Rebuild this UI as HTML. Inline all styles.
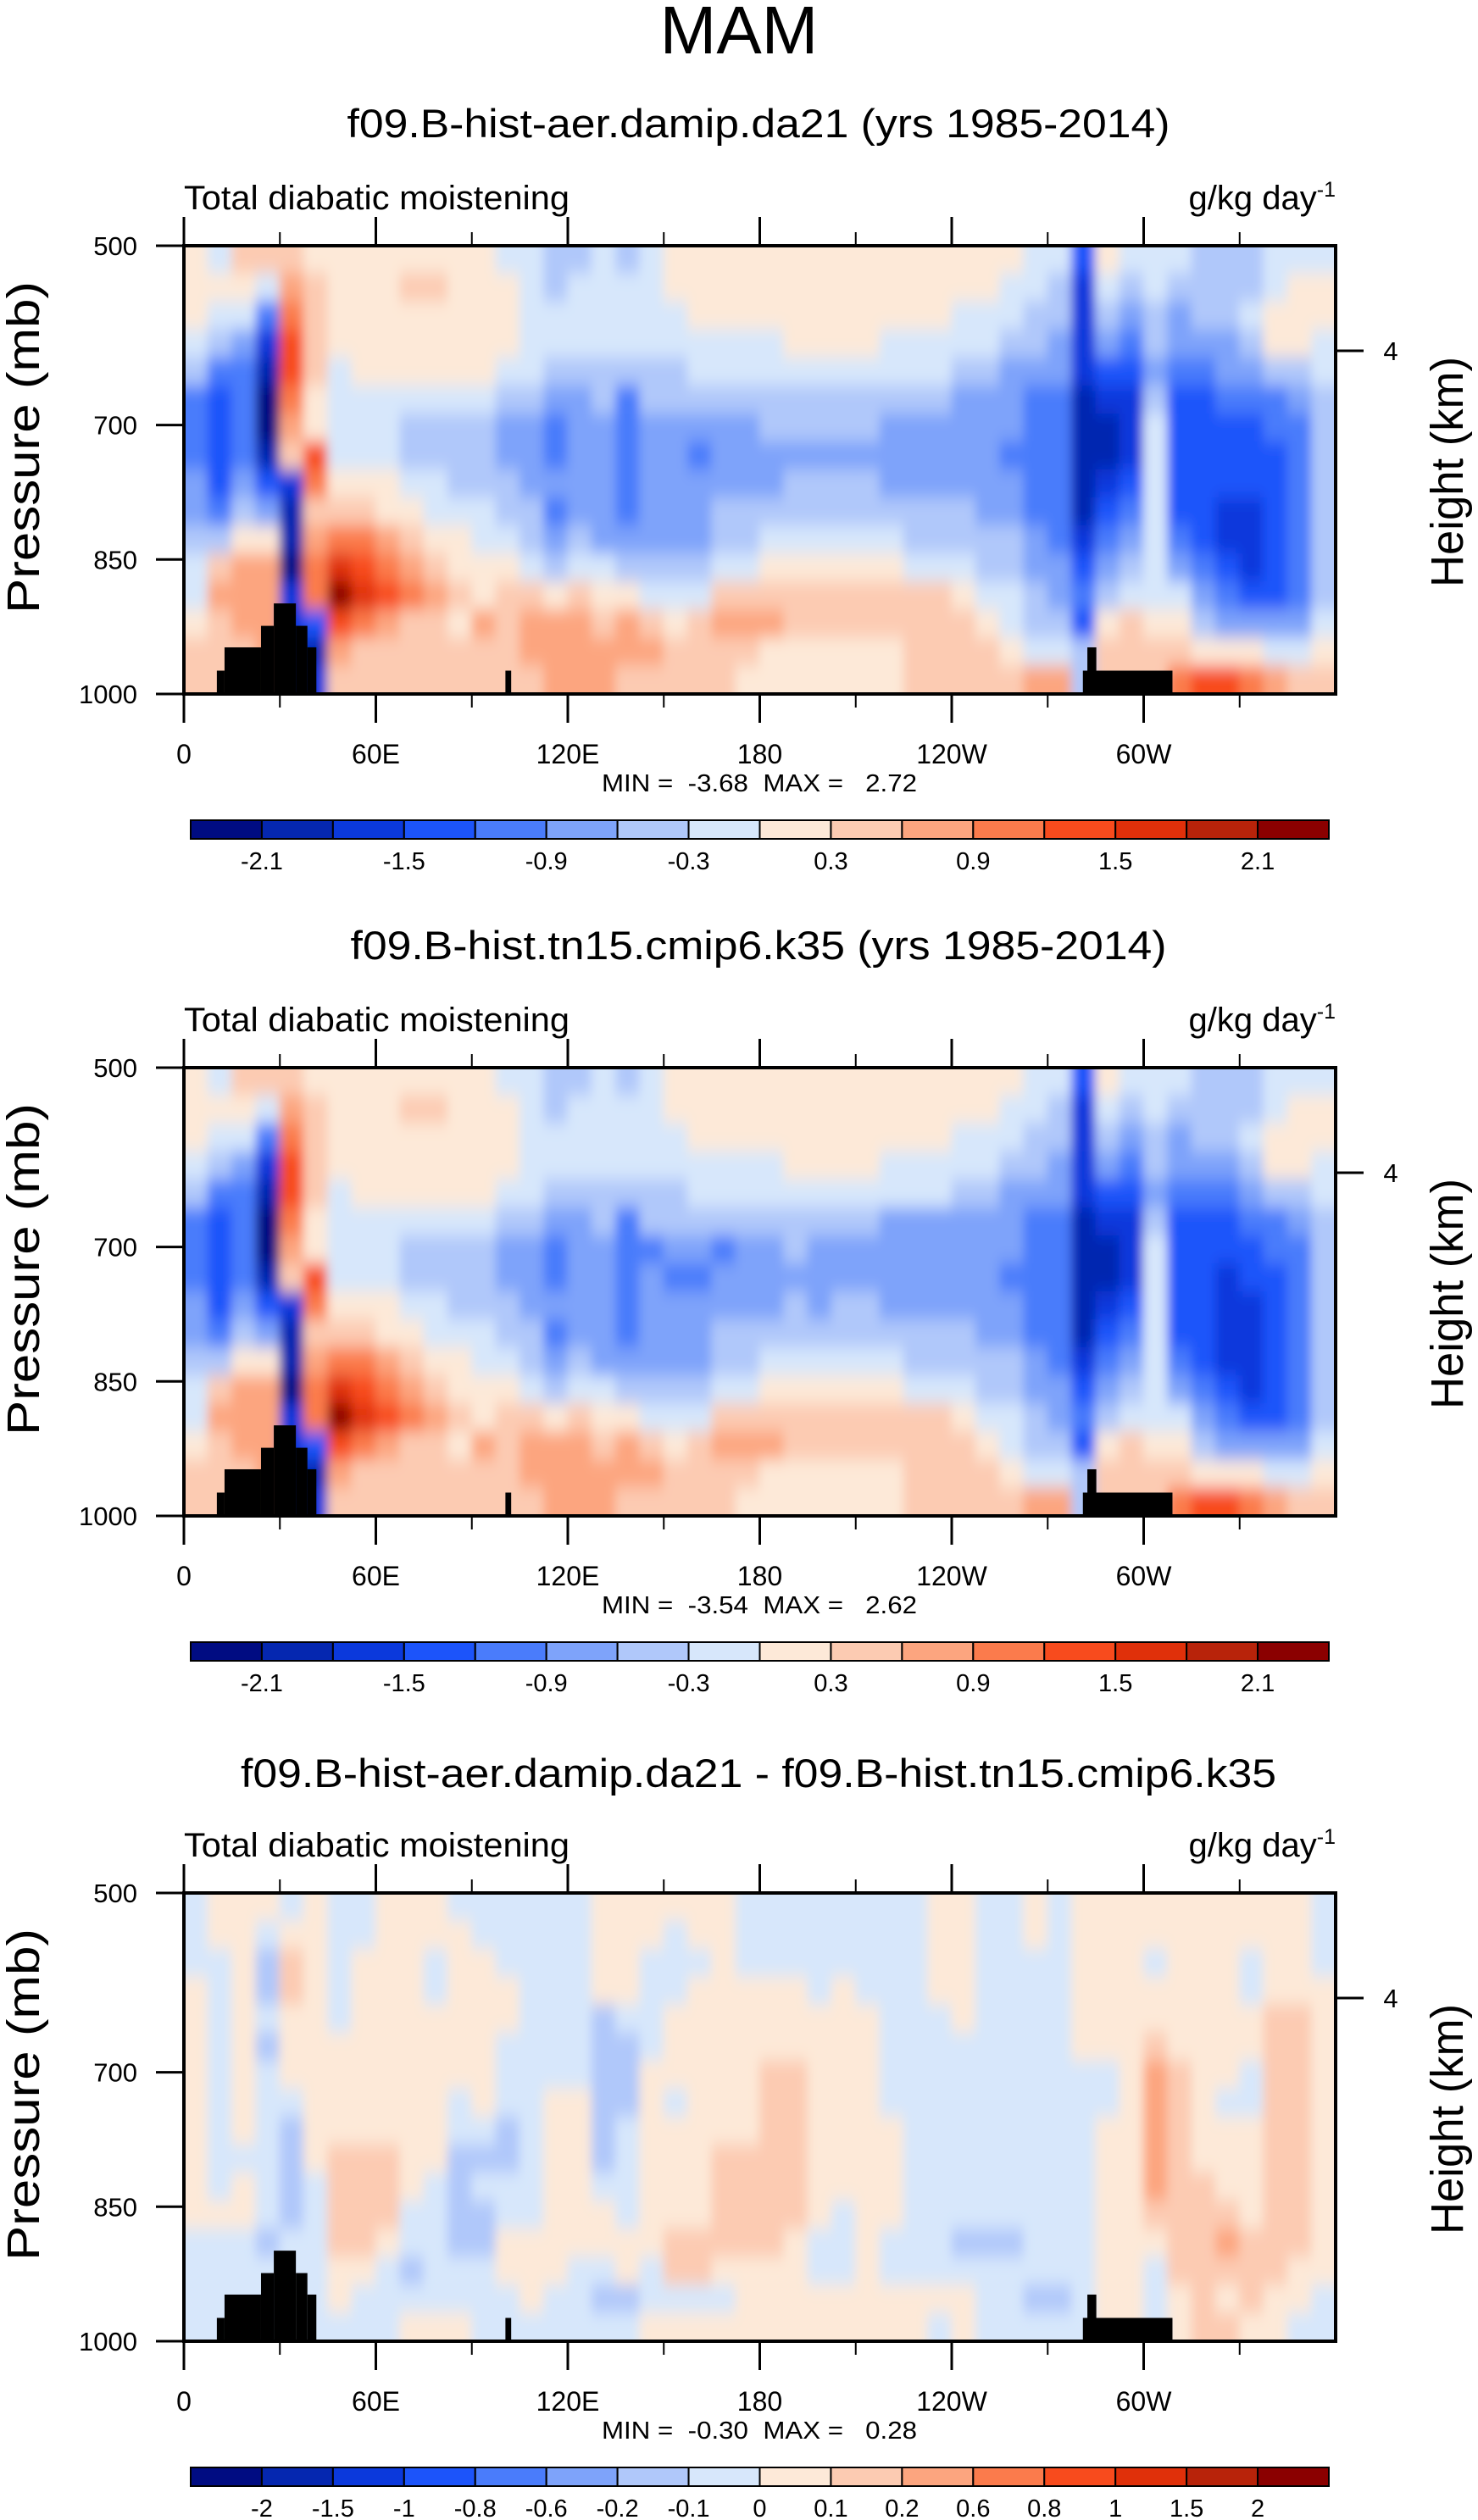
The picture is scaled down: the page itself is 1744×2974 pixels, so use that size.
<!DOCTYPE html>
<html><head><meta charset="utf-8"><title>MAM Total diabatic moistening</title>
<style>html,body{margin:0;padding:0;background:#fff}svg{display:block}text{font-family:"Liberation Sans",Arial,sans-serif;fill:#000;white-space:pre}</style>
</head><body>
<svg id="fig" width="1744" height="2974" viewBox="0 0 1744 2974" xmlns="http://www.w3.org/2000/svg">
<defs>
<filter id="soft" x="0" y="0" width="1" height="1"><feGaussianBlur stdDeviation="6 10"/></filter>
</defs>
<text x="872" y="63" font-size="80" text-anchor="middle">MAM</text>
<g id="panels"></g>
</svg>
<script>
// ---- data ----
const palette = ["#000c82","#0527b0","#0b39dc","#1c54fa","#4a7cfb","#7ea3fa","#b0c8fa","#d7e7fb","#fde9d8","#fccbb2","#fca57f","#fb7b4c","#f84b1d","#e0300a","#b8230a","#8b0000"];
const lonTicks = [0,60,120,180,240,300];
const lonTickLabels = ["0","60E","120E","180","120W","60W"];
const lonMinor = [30,90,150,210,270,330];
const presTicks = [500,700,850,1000];
const cbLabels12 = ["-2.1","-1.5","-0.9","-0.3","0.3","0.9","1.5","2.1"];
const cbLabels3 = ["-2","-1.5","-1","-0.8","-0.6","-0.2","-0.1","0","0.1","0.2","0.6","0.8","1","1.5","2"];
const terrain = [[10.3,12.7,974],[12.7,24.1,948],[24.1,28.1,924],[28.1,35,899],[35,38.6,924],[38.6,41.4,948],[100.5,102.3,974],[281,309,974],[282.4,285.2,948]];
// Each string = one 7.5deg longitude column, 16 pressure rows (500 -> 1000 mb), hex = colour level index
const panel1Cols = ["8887644455677899","787643333469a999","98754444568aaa99","97421001358aaaaa","9abccba921102222","8999988cb9abb312","8888777789bdfca9","8888877789bcdb99","8888877788abca99","89888766789ab999","898887667789a999","8888876667889899","8888876667788a99","7888765566789999","7777765556679aa9","6677654454568aaa","6777655555679aaa","77776655555789aa","6777644444568aa9","77776655555679a9","8877665555567899","8887765455567999","8887765556679a99","8887765556679a98","8887766556789a88","8888766566789988","8888766566789988","8888766566789988","8888766566789988","8887765556789988","8887765556679999","8887765556679999","8877655556678999","8877655555667899","8776555455667789","776654444455667a","766554444445567a","3222211111234366","8765321123456899","7654322234567999","7766567777777899","765543333345789b","666543333334568c","666554333223458c","667654333222358b","778864433333357a","7888654444444579","7887766666666789"];
const panel2Cols = ["8887644455677899","787643333469a999","98754444568aaa99","97421001358aaaaa","9abccba921102222","8999988cb9abb312","8888777789bdfca9","8888877789bcdb99","8888877788abca99","89888766789ab999","898887667789a999","8888876667889899","8888876667788a99","7888765566789999","7777765556679aa9","6677654454568aaa","6777655555679aaa","77776655555789aa","6777644444568aa9","77776645555679a9","8877665455567899","8887765455567999","8887764556679a99","8887765556679a98","8887765556789a88","8888766566789988","8888765556789988","8888765566789988","8888765566789988","8887755556789988","8887755556679999","8887755556679999","8877655556678999","8877655555667899","8776555455667789","776654444455667a","766554444445567a","3222211111234366","8765321123456899","7654322234567999","7766567777777899","765543333345789b","666543333334568c","666543322223458c","667654332222358b","778864433333357a","7888654444444579","7887766666666789"];
const panel3Cols = ["7778888888887777","8877777777787777","8888888887887777","8766767777776777","7899888766667777","8888888888777777","7777788889999887","7788888889999877","8888888889998777","8888888888877678","8877888888777778","7888888776666778","7788888876766777","7778877766778877","7777777777778887","7777777888888877","7777777888888777","8888666666788767","8888766677778867","8877778888888778","8777888788889978","8878888888889978","8888888889999878","7778888889999888","7778889999999888","7778889999998888","7777888888887788","7778888888877788","7777888888888888","7777777788887788","7777777777777788","8888777777777787","8888877777776788","7777777777776777","7777777777776777","8877777777777767","7777777777777767","8888887777777777","8888887788888888","8888888888888888","887889aaaaa98777","8888889999999988","8888888888999999","888888878889a989","8877887788889998","8888999999999988","8888999999999887","7778888888888877"];
const panelTitles = ["f09.B-hist-aer.damip.da21 (yrs 1985-2014)","f09.B-hist.tn15.cmip6.k35 (yrs 1985-2014)","f09.B-hist-aer.damip.da21 - f09.B-hist.tn15.cmip6.k35"];
const minMaxText = ["MIN =  -3.68  MAX =   2.72","MIN =  -3.54  MAX =   2.62","MIN =  -0.30  MAX =   0.28"];

// ---- layout ----
const NS = "http://www.w3.org/2000/svg";
const PX0 = 217, PX1 = 1576, PH = 529;
const offsets = [0, 970, 1944];
const PY0 = 290;
const titleWidths = [971, 963, 1222];
const titleCenters = [895, 895, 895];
function xScale(lon){ return PX0 + lon/360*(PX1-PX0); }
function yScale(p, off){ return PY0 + off + (p-500)/500*PH; }
function mk(tag, attrs, parent){ const e=document.createElementNS(NS,tag); for(const k in attrs) e.setAttribute(k, attrs[k]); if(parent) parent.appendChild(e); return e; }
function txt(str, attrs, parent){ const t=mk("text", attrs, parent); t.textContent=str; return t; }

const root = document.getElementById("panels");
const allCols = [panel1Cols, panel2Cols, panel3Cols];

allCols.forEach((cols, pi) => {
  const off = offsets[pi];
  const g = mk("g", {}, root);
  
  

  const t = txt(panelTitles[pi], {x:titleCenters[pi], y:(pi===2?2109:162+off), "font-size":47, "text-anchor":"middle", textLength:titleWidths[pi], lengthAdjust:"spacingAndGlyphs"}, g);
  
  
  const lt = txt("Total diabatic moistening", {x:217, y:247+off, "font-size":40, textLength:455, lengthAdjust:"spacingAndGlyphs"}, g);
  
  
  const ut = mk("text", {x:1576, y:247+off, "font-size":40, "text-anchor":"end"}, g);
  
  
  ut.textContent = "g/kg day";
  const sup = mk("tspan", {dy:-15, "font-size":25}, ut); sup.textContent = "-1";

  // clip
  const cid = "clip"+pi;
  const cp = mk("clipPath", {id:cid}, g);
  mk("rect", {x:PX0, y:PY0+off, width:PX1-PX0, height:PH}, cp);
  const field = mk("g", {"clip-path":"url(#"+cid+")"}, g);
  
  
  const cells = mk("g", {filter:"url(#soft)"}, field);
  const dl = 360/cols.length;
  const pad = 40;
  cols.forEach((col, ci) => {
    const nr = col.length, dp = 500/nr;
    for (let r=0; r<nr; r++){
      const v = parseInt(col[r],16);
      let x0 = xScale(ci*dl), x1 = xScale((ci+1)*dl);
      let y0 = yScale(500+r*dp, off), y1 = yScale(500+(r+1)*dp, off);
      if (ci===0) x0 -= pad;
      if (ci===cols.length-1) x1 += pad;
      if (r===0) y0 -= pad;
      if (r===nr-1) y1 += pad;
      const c = mk("rect", {x:x0-0.5, y:y0-0.5, width:x1-x0+1, height:y1-y0+1, fill:palette[v]}, cells);
      
      
    }
  });
  // terrain
  terrain.forEach(tr => {
    const x0=xScale(tr[0]), x1=xScale(tr[1]), y0=yScale(tr[2],off), y1=yScale(1000,off);
    const b = mk("rect", {x:x0, y:y0, width:x1-x0, height:y1-y0, fill:"#000"}, field);
    
    
  });
  // frame
  const fr = mk("rect", {x:PX0, y:PY0+off, width:PX1-PX0, height:PH, fill:"none", stroke:"#000", "stroke-width":4}, g);
  
  
  // x ticks
  lonTicks.forEach((lon, i) => {
    const x = xScale(lon);
    mk("line", {x1:x, x2:x, y1:PY0+off, y2:PY0+off-34, stroke:"#000","stroke-width":3}, g);
    mk("line", {x1:x, x2:x, y1:PY0+off+PH, y2:PY0+off+PH+34, stroke:"#000","stroke-width":3}, g);
    const l = txt(lonTickLabels[i], {x:x, y:901+off, "font-size":32, "text-anchor":"middle"}, g);
    
    
  });
  lonMinor.forEach(lon => {
    const x = xScale(lon);
    mk("line", {x1:x, x2:x, y1:PY0+off, y2:PY0+off-16, stroke:"#000","stroke-width":2}, g);
    mk("line", {x1:x, x2:x, y1:PY0+off+PH, y2:PY0+off+PH+16, stroke:"#000","stroke-width":2}, g);
  });
  presTicks.forEach(p => {
    const y = yScale(p, off);
    mk("line", {x1:PX0-33, x2:PX0, y1:y, y2:y, stroke:"#000","stroke-width":3}, g);
    const l = txt(String(p), {x:162, y:y+11, "font-size":31, "text-anchor":"end"}, g);
    
    
  });
  mk("line", {x1:PX1, x2:PX1+33, y1:414+off, y2:414+off, stroke:"#000","stroke-width":3}, g);
  const h4 = txt("4", {x:1641, y:425+off, "font-size":31, "text-anchor":"middle"}, g);
  
  
  const yl = txt("Pressure (mb)", {x:0, y:0, "font-size":54, "text-anchor":"middle", textLength:392, lengthAdjust:"spacingAndGlyphs", transform:"translate(46,"+(528+off)+") rotate(-90)"}, g);
  
  
  const yr = txt("Height (km)", {x:0, y:0, "font-size":54, "text-anchor":"middle", textLength:272, lengthAdjust:"spacingAndGlyphs", transform:"translate(1726,"+(557+off)+") rotate(-90)"}, g);
  
  
  const mm = txt(minMaxText[pi], {x:896, y:934+off, "font-size":29, "text-anchor":"middle", textLength:372, lengthAdjust:"spacingAndGlyphs"}, g);
  
  
  // colorbar
  const cb = mk("g", {}, g);
  
  
  const bx0 = 225, bx1 = 1568, by = 968+off, bh = 22, bw = (bx1-bx0)/16;
  palette.forEach((c, k) => {
    const b = mk("rect", {x:bx0+k*bw, y:by, width:bw, height:bh, fill:c, stroke:"#000","stroke-width":2}, cb);
    
    
  });
  if (pi < 2) {
    cbLabels12.forEach((s, k) => {
      const l = txt(s, {x:bx0+(1+2*k)*bw, y:1026+off, "font-size":29, "text-anchor":"middle"}, cb);
      
      
    });
  } else {
    cbLabels3.forEach((s, k) => {
      const l = txt(s, {x:bx0+(1+k)*bw, y:1026+off, "font-size":29, "text-anchor":"middle"}, cb);
      
      
    });
  }
});
</script>
</body></html>
